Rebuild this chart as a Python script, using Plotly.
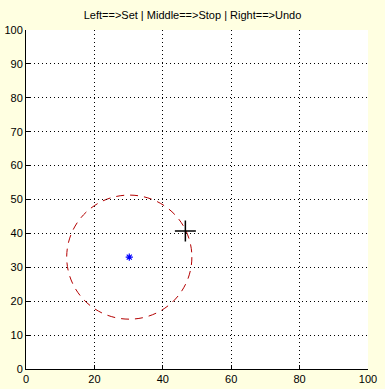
import plotly.graph_objects as go

# data
center_x = [30.2]
center_y = [33.0]
radius = 18.3
cursor_x = [46.6]
cursor_y = [40.7]
x_tick_vals = [0, 20, 40, 60, 80, 100]
y_tick_vals = [0, 10, 20, 30, 40, 50, 60, 70, 80, 90, 100]
title_text = "Left==>Set | Middle==>Stop | Right==>Undo"

fig = go.Figure()

fig.add_shape(type="circle", xref="x", yref="y", layer="below",
              x0=center_x[0] - radius, x1=center_x[0] + radius,
              y0=center_y[0] - radius, y1=center_y[0] + radius,
              line=dict(color="#b40000", width=1, dash="8px,6px"))

fig.add_trace(go.Scatter(x=center_x, y=center_y, mode="markers",
                         marker=dict(symbol="asterisk-open", size=6, color="#0000ff",
                                     line=dict(color="#0000ff", width=1.2)),
                         showlegend=False, hoverinfo="skip"))
fig.add_trace(go.Scatter(x=cursor_x, y=cursor_y, mode="markers",
                         marker=dict(symbol="cross-thin-open", size=15, color="#000000",
                                     line=dict(color="#000000", width=1.5)),
                         showlegend=False, hoverinfo="skip"))

def axis(vals):
    return dict(range=[0, 100], tickvals=vals, showgrid=True,
                gridcolor="black", griddash="1px,3px", gridwidth=1,
                zeroline=False, showline=True, linecolor="black", linewidth=1,
                ticks="inside", ticklen=4, tickcolor="black", automargin=False,
                tickfont=dict(family="Liberation Sans, Arial", size=11, color="black"),
                fixedrange=True)

fig.update_layout(
    width=385, height=389,
    margin=dict(l=26, r=17, t=30, b=20),
    paper_bgcolor="#ffffe1", plot_bgcolor="#ffffff",
    title=dict(text=title_text, x=0.5, xanchor="center", y=1 - 15 / 389, yanchor="middle",
               font=dict(family="Liberation Sans, Arial", size=11, color="black")),
    xaxis=axis(x_tick_vals),
    yaxis=axis(y_tick_vals),
)

fig.write_html("out.html", config={"displayModeBar": False},
               post_script="document.body.style.margin='0';document.body.style.background='#ffffe1';")
